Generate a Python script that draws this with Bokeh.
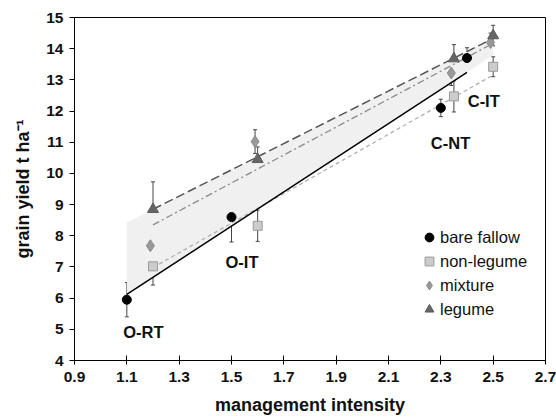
import numpy as np
from bokeh.plotting import figure
from bokeh.models import (ColumnDataSource, Whisker, TeeHead, Legend, LegendItem,
                          FixedTicker, Range1d)
from bokeh.core.properties import value
from bokeh.embed import file_html
from bokeh.resources import INLINE

# ---- data ----
bf_x = [1.1, 1.5, 2.3, 2.4]
bf_y = [5.95, 8.6, 12.1, 13.7]
bf_e = [0.55, 0.8, 0.28, 0.33]

nl_x = [1.2, 1.6, 2.35, 2.5]
nl_y = [7.02, 8.32, 12.47, 13.42]
nl_e = [0.6, 0.5, 0.5, 0.32]

mx_x = [1.19, 1.59, 2.34, 2.49]
mx_y = [7.68, 11.02, 13.22, 14.2]
mx_e = [0.62, 0.38, 0.4, 0.3]

lg_x = [1.2, 1.6, 2.35, 2.5]
lg_y = [8.85, 10.45, 13.68, 14.42]
lg_e = [0.88, 0.4, 0.45, 0.33]

# regression fits (slope, intercept) and their x extents
bf_fit = (5.477, 0.095)
nl_fit = (4.75, 1.28)
mx_fit = (4.48, 2.974)
lg_fit = (4.215, 3.792)
bf_span = [1.1, 2.4]
nl_span = [1.2, 2.5]
mx_span = [1.2, 2.5]
lg_span = [1.2, 2.5]
band_span = [1.1, 2.5]

lab_text = ["O-RT", "O-IT", "C-NT", "C-IT"]
lab_x = [1.163, 1.54, 2.337, 2.464]
lab_y = [4.92, 7.17, 10.96, 12.33]

x_ticks = [0.9, 1.1, 1.3, 1.5, 1.7, 1.9, 2.1, 2.3, 2.5, 2.7]
y_ticks = [4, 5, 6, 7, 8, 9, 10, 11, 12, 13, 14, 15]

FONT = "Liberation Sans"

p = figure(width=556, height=418, output_backend="svg", toolbar_location=None,
           x_range=Range1d(0.9, 2.7), y_range=Range1d(4, 15),
           min_border_left=74, min_border_top=17, min_border_right=11, min_border_bottom=58)
p.grid.visible = False
p.outline_line_color = "black"
p.outline_line_width = 1
p.background_fill_color = "white"
p.border_fill_color = "white"

# shaded band between legume and bare-fallow fits
bx = np.array(band_span)
p.varea(x=bx, y1=bf_fit[0] * bx + bf_fit[1], y2=lg_fit[0] * bx + lg_fit[1],
        fill_color="#f0f0f0", fill_alpha=1.0)

def fit_line(fit, span, **kw):
    xs = np.array(span)
    p.line(xs, fit[0] * xs + fit[1], **kw)

fit_line(nl_fit, nl_span, line_color="#b0b0b0", line_width=1.3, line_dash="4 3")
fit_line(mx_fit, mx_span, line_color="#8a8a8a", line_width=1.3, line_dash="7 3 2 3")
fit_line(lg_fit, lg_span, line_color="#555555", line_width=1.5, line_dash="9 4")
fit_line(bf_fit, bf_span, line_color="black", line_width=1.5)

def errbars(xs, ys, es):
    src = ColumnDataSource(dict(x=xs, up=[y + e for y, e in zip(ys, es)],
                                lo=[y - e for y, e in zip(ys, es)]))
    w = Whisker(source=src, base="x", upper="up", lower="lo", dimension="height",
                line_color="#444444", line_width=1,
                upper_head=TeeHead(size=4, line_color="#444444", line_width=1),
                lower_head=TeeHead(size=4, line_color="#444444", line_width=1))
    p.add_layout(w)

errbars(bf_x, bf_y, bf_e)
errbars(nl_x, nl_y, nl_e)
errbars(mx_x, mx_y, mx_e)
errbars(lg_x, lg_y, lg_e)

r_bf = p.scatter(bf_x, bf_y, marker="circle", size=9, fill_color="black", line_color="black")
r_nl = p.scatter(nl_x, nl_y, marker="square", size=9, fill_color="#cccccc", line_color="#9a9a9a")
r_mx = p.scatter(mx_x, mx_y, marker="diamond", size=12, fill_color="#999999", line_color="#8a8a8a")
r_lg = p.scatter(lg_x, lg_y, marker="triangle", size=11, fill_color="#666666", line_color="#5a5a5a")

p.text(x=lab_x, y=lab_y, text=lab_text, text_align="center", text_baseline="middle",
       text_font=value(FONT), text_font_style="bold", text_font_size="16.5px", text_color="#111111")

legend = Legend(items=[LegendItem(label="bare fallow", renderers=[r_bf]),
                       LegendItem(label="non-legume", renderers=[r_nl]),
                       LegendItem(label="mixture", renderers=[r_mx]),
                       LegendItem(label="legume", renderers=[r_lg])],
                location=(344, 40), glyph_width=22, glyph_height=22, label_height=22,
                spacing=2, padding=0, margin=0, label_standoff=0,
                label_text_font=FONT, label_text_font_size="16.5px", label_text_color="#111111",
                border_line_color=None, background_fill_alpha=0)
p.add_layout(legend, "center")

p.xaxis.ticker = FixedTicker(ticks=x_ticks)
p.yaxis.ticker = FixedTicker(ticks=y_ticks)
p.xaxis.minor_tick_line_color = None
p.yaxis.minor_tick_line_color = None
p.xaxis.major_tick_in = 5
p.xaxis.major_tick_out = 4
p.yaxis.major_tick_in = 0
p.yaxis.major_tick_out = 5
p.xaxis.axis_label = "management intensity"
p.yaxis.axis_label = "grain yield t ha\u207b\u00b9"
for ax in (p.xaxis, p.yaxis):
    ax.axis_line_color = "black"
    ax.major_tick_line_color = "black"
    ax.major_label_text_font = FONT
    ax.major_label_text_font_style = "bold"
    ax.major_label_text_font_size = "15.5px"
    ax.major_label_text_color = "#111111"
    ax.axis_label_text_font = FONT
    ax.axis_label_text_font_style = "bold"
    ax.axis_label_text_font_size = "18px"
    ax.axis_label_text_color = "#111111"
p.xaxis.major_label_standoff = 7
p.xaxis.axis_label_standoff = 10
p.yaxis.major_label_standoff = 6
p.yaxis.axis_label_standoff = 10

open("out.html", "w").write(file_html(p, INLINE))
